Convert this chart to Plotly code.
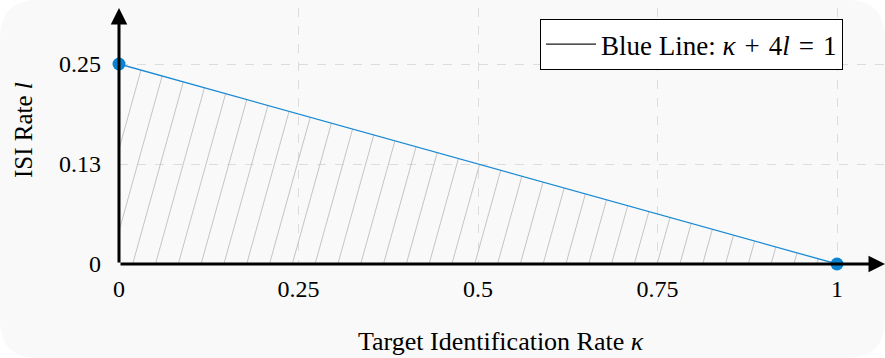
import numpy as np
import plotly.graph_objects as go

# ---- data ----
kappa = [0.0, 1.0]          # Target identification rate (endpoints of blue line)
isi = [0.25, 0.0]           # ISI rate l
x_ticks = [0, 0.25, 0.5, 0.75, 1]
x_ticktext = ["0", "0.25", "0.5", "0.75", "1"]
y_ticks = [0, 0.125, 0.25]
y_ticktext = ["0", "0.13", "0.25"]

# ---- layout geometry (pixels) ----
W, H = 885, 358
ML, MR, MT, MB = 119, 0, 8, 94
PW, PH = W - ML - MR, H - MT - MB
XR = [0, PW / 718]
YR = [0, PH / 800]

FONT = "Liberation Serif, Times New Roman, serif"
BLUE = "#1a8ad4"
MARK = "#0a84d0"

fig = go.Figure()

# hatch lines inside the triangle under the blue line (style, derived from the data line)
k0, l0 = kappa[1], isi[0]
s = 3.6 * (718 / 800)          # slope of hatch in data units
sp = 22.8 / 718                # spacing
off = 13.7 / 718
hx, hy = [], []
kmin = -int(np.ceil(l0 / s / sp)) - 1
kmax = int((k0 - off) / sp) + 1
for k in range(kmin, kmax + 1):
    a = off + k * sp
    if a >= 0:
        if a >= k0:
            continue
        x0, y0 = a, 0.0
    else:
        y0 = -s * a
        if y0 >= l0:
            continue
        x0 = 0.0
    x1 = (l0 + s * a) / (s + l0 / k0)
    y1 = s * (x1 - a)
    hx += [x0, x1, None]
    hy += [y0, y1, None]
fig.add_trace(go.Scatter(x=hx, y=hy, mode="lines",
                         line=dict(color="#c4c4c4", width=1),
                         showlegend=False, hoverinfo="skip"))

# blue line
fig.add_trace(go.Scatter(x=kappa, y=isi, mode="lines",
                         line=dict(color=BLUE, width=1.3),
                         showlegend=False, cliponaxis=False))
# endpoints
fig.add_trace(go.Scatter(x=kappa, y=isi, mode="markers",
                         marker=dict(color=MARK, size=13),
                         showlegend=False, cliponaxis=False))
# legend entry (dark sample line as in the reference)
fig.add_trace(go.Scatter(x=[None], y=[None], mode="lines",
                         line=dict(color="#1a1a1a", width=1.2),
                         name="Blue Line: <i>κ</i>&#8196;+&#8196;4<i>l</i>&#8196;=&#8196;1"))

def px2paper(px, py):
    return (px - ML) / PW, (H - MB - py) / PH

# rounded background
R = 38
def P(px, py):
    x, y = px2paper(px, py)
    return f"{x:.5f},{y:.5f}"
path = (f"M {P(R,0)} L {P(W-R,0)} Q {P(W,0)} {P(W,R)} L {P(W,H-R)} Q {P(W,H)} {P(W-R,H)} "
        f"L {P(R,H)} Q {P(0,H)} {P(0,H-R)} L {P(0,R)} Q {P(0,0)} {P(R,0)} Z")
fig.add_shape(type="path", path=path, xref="paper", yref="paper",
              fillcolor="#f9f9f9", line=dict(width=0), layer="below")

# axes with arrows
fig.add_annotation(x=XR[1], y=0, ax=0, ay=0, xref="x", yref="y", axref="x", ayref="y",
                   showarrow=True, arrowhead=2, arrowsize=1.1, arrowwidth=3,
                   arrowcolor="black", text="", standoff=0)
fig.add_annotation(x=0, y=YR[1], ax=0, ay=0, xref="x", yref="y", axref="x", ayref="y",
                   showarrow=True, arrowhead=2, arrowsize=1.1, arrowwidth=3,
                   arrowcolor="black", text="", standoff=0)

# axis titles
fig.add_annotation(text="Target Identification Rate <i>κ</i>", xref="paper", yref="paper",
                   x=px2paper(501, 0)[0], y=px2paper(0, 341)[1], showarrow=False,
                   font=dict(family=FONT, size=26, color="black"),
                   xanchor="center", yanchor="middle")
fig.add_annotation(text="ISI Rate <i>l</i>", xref="paper", yref="paper",
                   x=px2paper(23, 0)[0], y=px2paper(0, 130)[1], showarrow=False,
                   textangle=-90,
                   font=dict(family=FONT, size=25, color="black"),
                   xanchor="center", yanchor="middle")

lx, ly = px2paper(843, 19)
fig.update_layout(
    width=W, height=H,
    margin=dict(l=ML, r=MR, t=MT, b=MB),
    paper_bgcolor="white", plot_bgcolor="rgba(0,0,0,0)",
    font=dict(family=FONT, size=24, color="black"),
    xaxis=dict(range=XR, tickvals=x_ticks, ticktext=x_ticktext,
               showgrid=True, gridcolor="#dcdcdc", griddash="dash", gridwidth=1,
               zeroline=False, showline=False, ticks="", ticklabelstandoff=8,
               tickfont=dict(family=FONT, size=24),
               fixedrange=True),
    yaxis=dict(range=YR, tickvals=y_ticks, ticktext=y_ticktext,
               showgrid=True, gridcolor="#dcdcdc", griddash="dash", gridwidth=1,
               zeroline=False, showline=False, ticks="", ticklabelstandoff=17,
               tickfont=dict(family=FONT, size=24),
               fixedrange=True),
    legend=dict(x=lx, y=ly, xanchor="right", yanchor="top",
                bgcolor="white", bordercolor="black", borderwidth=1,
                font=dict(family=FONT, size=27, color="black"),
                itemwidth=50),
)

fig.write_html("out.html", config={"displayModeBar": False},
               post_script="document.body.style.margin='0';")
